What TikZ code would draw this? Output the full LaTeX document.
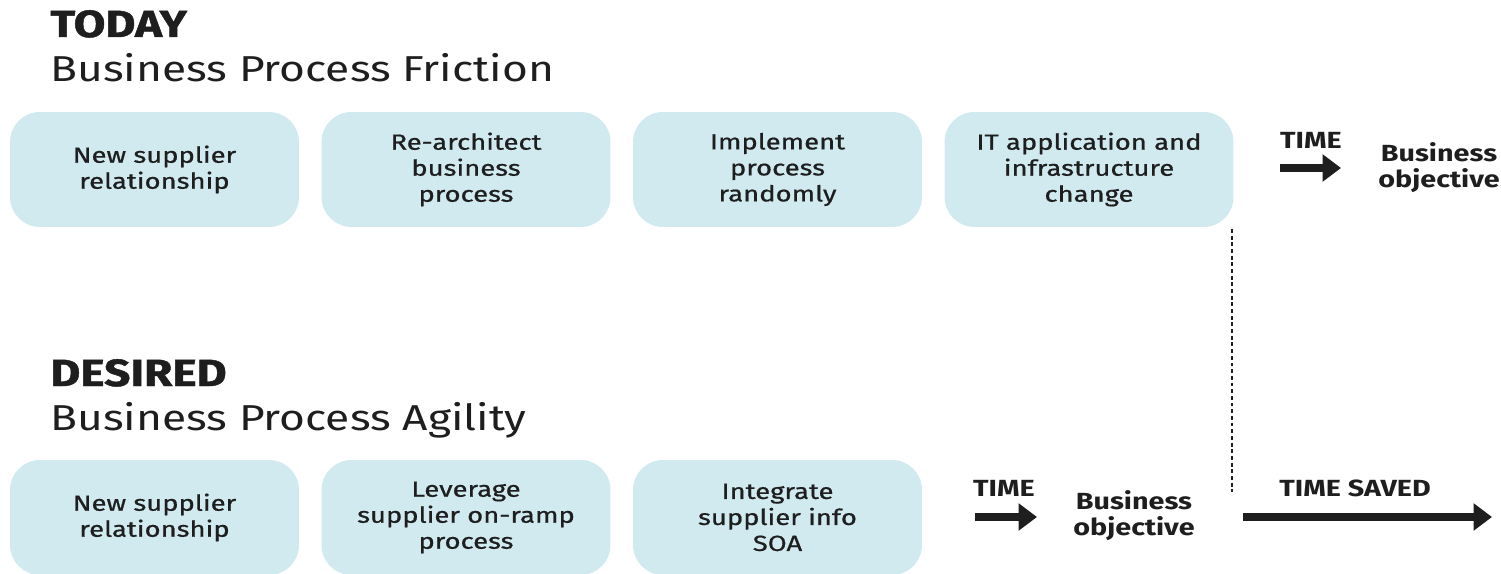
\documentclass[tikz,border=0pt]{standalone}
\usepackage{fontspec}
\setmainfont[FakeStretch=1.23]{Fira Sans}
\newfontfamily\boxfont[FakeStretch=1.25,FakeBold=0.7]{Fira Sans}
\newfontfamily\heavyfont[FakeStretch=1.22,FakeBold=1.2]{Fira Sans Bold}
\usetikzlibrary{arrows.meta}
\definecolor{boxblue}{HTML}{D0EAF0}
\definecolor{ink}{HTML}{1E1E1E}
\tikzset{
  procbox/.style={fill=boxblue, draw=none, rounded corners=17pt, minimum width=5.78cm, minimum height=2.3cm, align=center, text=ink, font=\boxfont\fontsize{12.5}{14.8}\selectfont},
  head/.style={anchor=base west, text=ink, inner sep=0pt, font=\heavyfont\fontsize{21.5}{24}\selectfont},
  sub/.style={anchor=base west, text=ink, inner sep=0pt, font=\fontsize{20.5}{24}\selectfont},
  lab/.style={text=ink, inner sep=0pt, font=\fontsize{13.3}{14.8}\selectfont\bfseries, align=center},
  fat/.style={draw=ink, line width=4.5pt, -{Triangle[length=10.5pt,width=15pt]}},
  gap/.style={draw=ink, line width=1.3pt, dash pattern=on 2.2pt off 1.6pt}
}
\begin{document}
\begin{tikzpicture}[x=0.02cm,y=-0.02cm]
\useasboundingbox (0,0) rectangle (1501,574);
% headings
\node[head] (today) at (50,37) {TODAY};
\node[sub] (friction) at (50,82) {Business Process Friction};
\node[head] (desired) at (50,386) {DESIRED};
\node[sub] (agility) at (50,430) {Business Process Agility};
% top row
\node[procbox] (t1) at (154.5,169.5) {New supplier\\relationship};
\node[procbox] (t2) at (466,169.5) {Re-architect\\business\\process};
\node[procbox] (t3) at (777.5,169.5) {Implement\\process\\randomly};
\node[procbox] (t4) at (1089,169.5) {IT application and\\infrastructure\\change};
\node[lab] (time1) at (1311,140) {TIME};
\coordinate (a1s) at (1280,168);
\coordinate (a1e) at (1341,168);
\draw[fat] (a1s) -- (a1e);
\node[lab] (obj1) at (1439,168) {Business\\objective};
% bottom row
\node[procbox] (b1) at (154.5,517.5) {New supplier\\relationship};
\node[procbox] (b2) at (466,517.5) {Leverage\\supplier on-ramp\\process};
\node[procbox] (b3) at (777.5,517.5) {Integrate\\supplier info\\SOA};
\node[lab] (time2) at (1004,488) {TIME};
\coordinate (a2s) at (975,517);
\coordinate (a2e) at (1037,517);
\draw[fat] (a2s) -- (a2e);
\node[lab] (obj2) at (1134,516) {Business\\objective};
% time saved
\coordinate (d1) at (1232,229);
\coordinate (d2) at (1232,492);
\draw[gap] (d1) -- (d2);
\node[lab] (saved) at (1355,488) {TIME SAVED};
\coordinate (a3s) at (1243,517);
\coordinate (a3e) at (1492,517);
\draw[fat, line width=4pt] (a3s) -- (a3e);
\end{tikzpicture}
\end{document}
